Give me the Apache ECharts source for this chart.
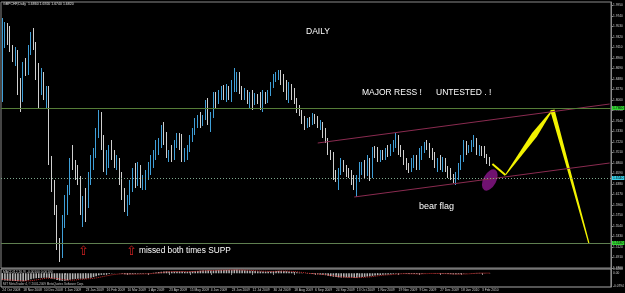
<!DOCTYPE html>
<html><head><meta charset="utf-8">
<script src="https://cdn.jsdelivr.net/npm/echarts/dist/echarts.min.js"></script>
<style>html,body{margin:0;padding:0;background:#000;overflow:hidden}#c{width:625px;height:293px}</style>
</head><body><div id="c"></div>
<script>
const tickLabels = ['24 Oct 2008','18 Nov 2008','10 Dec 2008','1 Jan 2009','23 Jan 2009','16 Feb 2009','10 Mar 2009','1 Apr 2009','23 Apr 2009','15 May 2009','4 Jun 2009','23 Jun 2009','12 Jul 2009','30 Jul 2009','18 Aug 2009','6 Sep 2009','24 Sep 2009','13 Oct 2009','1 Nov 2009','19 Nov 2009','9 Dec 2009','27 Dec 2009','18 Jan 2010','3 Feb 2010'];

const opens = [
1.836,1.926,1.950,1.926,1.910,1.890,1.902,1.826,1.816,1.878,
1.862,1.910,1.934,1.916,1.862,1.826,1.856,1.816,1.826,1.686,
1.636,1.586,1.516,1.506,1.566,1.606,1.626,1.682,1.676,1.662,
1.642,1.596,1.606,1.596,1.650,1.686,1.702,1.742,1.770,1.722,
1.676,1.690,1.706,1.694,1.682,1.686,1.646,1.616,1.596,1.606,
1.636,1.662,1.646,1.670,1.642,1.650,1.656,1.670,1.686,1.696,
1.716,1.726,1.746,1.726,1.696,1.700,1.690,1.720,1.730,1.716,
1.690,1.702,1.710,1.730,1.746,1.762,1.766,1.758,1.772,1.798,
1.766,1.776,1.814,1.806,1.818,1.826,1.814,1.830,1.810,1.838,
1.846,1.854,1.826,1.818,1.822,1.806,1.818,1.802,1.814,1.810,
1.798,1.814,1.806,1.822,1.836,1.852,1.856,1.862,1.842,1.830,
1.822,1.830,1.814,1.806,1.786,1.782,1.766,1.754,1.766,1.762,
1.774,1.764,1.754,1.758,1.736,1.726,1.702,1.694,1.656,1.650,
1.662,1.682,1.670,1.662,1.658,1.646,1.634,1.646,1.670,1.676,
1.662,1.686,1.656,1.706,1.702,1.690,1.698,1.692,1.706,1.700,
1.712,1.720,1.730,1.706,1.702,1.682,1.674,1.668,1.682,1.690,
1.678,1.702,1.706,1.716,1.710,1.702,1.694,1.676,1.686,1.672,
1.686,1.670,1.662,1.654,1.646,1.656,1.672,1.686,1.716,1.706,
1.710,1.720,1.726,1.706,1.710,1.706,1.694,1.686];
const highs = [
1.970,1.962,1.960,1.954,1.916,1.912,1.906,1.850,1.882,1.890,
1.916,1.942,1.950,1.922,1.880,1.870,1.862,1.834,1.834,1.694,
1.646,1.596,1.530,1.576,1.616,1.636,1.690,1.716,1.686,1.676,
1.654,1.614,1.630,1.662,1.696,1.710,1.750,1.786,1.782,1.736,
1.706,1.716,1.726,1.706,1.696,1.690,1.662,1.630,1.616,1.646,
1.670,1.680,1.682,1.676,1.656,1.666,1.682,1.696,1.706,1.726,
1.730,1.756,1.762,1.742,1.706,1.716,1.726,1.740,1.740,1.738,
1.710,1.716,1.736,1.750,1.770,1.776,1.782,1.776,1.806,1.810,
1.782,1.822,1.822,1.826,1.834,1.836,1.838,1.834,1.846,1.870,
1.862,1.862,1.834,1.830,1.826,1.822,1.826,1.820,1.818,1.822,
1.826,1.822,1.826,1.842,1.858,1.862,1.866,1.866,1.858,1.846,
1.842,1.838,1.830,1.810,1.796,1.786,1.774,1.770,1.772,1.780,
1.778,1.774,1.766,1.762,1.750,1.730,1.706,1.702,1.666,1.670,
1.690,1.686,1.676,1.670,1.666,1.656,1.656,1.682,1.682,1.686,
1.696,1.690,1.712,1.714,1.712,1.706,1.706,1.710,1.716,1.718,
1.726,1.740,1.736,1.716,1.706,1.690,1.680,1.690,1.696,1.696,
1.710,1.714,1.722,1.726,1.720,1.710,1.702,1.690,1.696,1.692,
1.690,1.674,1.670,1.658,1.662,1.680,1.696,1.726,1.724,1.716,
1.726,1.736,1.730,1.716,1.714,1.714,1.698,1.692];
const lows = [
1.802,1.910,1.916,1.902,1.882,1.874,1.816,1.782,1.802,1.854,
1.856,1.896,1.906,1.846,1.790,1.816,1.806,1.790,1.676,1.622,
1.576,1.506,1.482,1.490,1.550,1.576,1.616,1.666,1.646,1.636,
1.576,1.552,1.562,1.590,1.636,1.666,1.690,1.730,1.706,1.662,
1.656,1.670,1.686,1.670,1.666,1.636,1.606,1.582,1.574,1.596,
1.622,1.630,1.634,1.630,1.626,1.626,1.646,1.656,1.670,1.686,
1.696,1.710,1.716,1.690,1.682,1.682,1.686,1.710,1.706,1.682,
1.682,1.686,1.702,1.722,1.736,1.750,1.750,1.754,1.766,1.756,
1.742,1.770,1.790,1.798,1.806,1.806,1.802,1.806,1.802,1.822,
1.822,1.818,1.806,1.806,1.798,1.790,1.786,1.796,1.798,1.786,
1.782,1.798,1.800,1.814,1.830,1.842,1.846,1.836,1.822,1.806,
1.800,1.806,1.798,1.780,1.774,1.758,1.746,1.750,1.752,1.756,
1.758,1.750,1.746,1.730,1.720,1.696,1.686,1.646,1.642,1.626,
1.656,1.662,1.652,1.650,1.636,1.626,1.612,1.642,1.656,1.650,
1.654,1.644,1.650,1.690,1.682,1.682,1.686,1.686,1.692,1.694,
1.702,1.710,1.696,1.692,1.676,1.666,1.660,1.662,1.670,1.666,
1.666,1.686,1.700,1.706,1.690,1.686,1.670,1.662,1.666,1.662,
1.662,1.650,1.646,1.640,1.636,1.646,1.666,1.682,1.696,1.700,
1.702,1.712,1.696,1.694,1.694,1.690,1.678,1.674];
const closes = [
1.926,1.950,1.926,1.910,1.890,1.902,1.826,1.816,1.878,1.862,
1.910,1.934,1.916,1.862,1.826,1.856,1.816,1.826,1.686,1.636,
1.586,1.516,1.506,1.566,1.606,1.626,1.682,1.676,1.662,1.642,
1.596,1.606,1.596,1.650,1.686,1.702,1.742,1.770,1.722,1.676,
1.690,1.706,1.694,1.682,1.686,1.646,1.616,1.596,1.606,1.636,
1.662,1.646,1.670,1.642,1.650,1.656,1.670,1.686,1.696,1.716,
1.726,1.746,1.726,1.696,1.700,1.690,1.720,1.730,1.716,1.690,
1.702,1.710,1.730,1.746,1.762,1.766,1.758,1.772,1.798,1.766,
1.776,1.814,1.806,1.818,1.826,1.814,1.830,1.810,1.838,1.846,
1.854,1.826,1.818,1.822,1.806,1.818,1.802,1.814,1.810,1.798,
1.814,1.806,1.822,1.836,1.852,1.856,1.862,1.842,1.830,1.822,
1.830,1.814,1.806,1.786,1.782,1.766,1.754,1.766,1.762,1.774,
1.764,1.754,1.758,1.736,1.726,1.702,1.694,1.656,1.650,1.662,
1.682,1.670,1.662,1.658,1.646,1.634,1.646,1.670,1.676,1.662,
1.686,1.656,1.706,1.702,1.690,1.698,1.692,1.706,1.700,1.712,
1.720,1.730,1.706,1.702,1.682,1.674,1.668,1.682,1.690,1.678,
1.702,1.706,1.716,1.710,1.702,1.694,1.676,1.686,1.672,1.686,
1.670,1.662,1.654,1.646,1.656,1.672,1.686,1.716,1.706,1.710,
1.720,1.726,1.706,1.710,1.706,1.694,1.686,1.682];

const macdMain = [
-0.040,-0.042,-0.043,-0.044,-0.045,-0.045,-0.046,-0.047,-0.046,-0.044,
-0.040,-0.035,-0.031,-0.029,-0.028,-0.027,-0.026,-0.026,-0.027,-0.030,
-0.034,-0.039,-0.043,-0.044,-0.043,-0.041,-0.038,-0.035,-0.033,-0.032,
-0.032,-0.032,-0.031,-0.029,-0.026,-0.022,-0.017,-0.012,-0.009,-0.008,
-0.006,-0.004,-0.002,-0.001,0.000,-0.001,-0.003,-0.005,-0.006,-0.006,
-0.005,-0.004,-0.003,-0.003,-0.003,-0.002,-0.001,0.001,0.003,0.005,
0.007,0.009,0.011,0.011,0.010,0.010,0.010,0.011,0.011,0.010,
0.009,0.009,0.010,0.011,0.013,0.014,0.015,0.016,0.017,0.017,
0.016,0.017,0.018,0.018,0.019,0.019,0.019,0.019,0.019,0.020,
0.020,0.019,0.018,0.017,0.016,0.015,0.014,0.013,0.012,0.011,
0.011,0.010,0.010,0.011,0.012,0.013,0.014,0.014,0.013,0.012,
0.010,0.009,0.008,0.006,0.004,0.002,0.000,-0.002,-0.003,-0.004,
-0.005,-0.006,-0.007,-0.009,-0.011,-0.014,-0.017,-0.020,-0.022,-0.024,
-0.024,-0.024,-0.024,-0.024,-0.025,-0.026,-0.026,-0.024,-0.022,-0.021,
-0.019,-0.018,-0.015,-0.013,-0.011,-0.010,-0.009,-0.008,-0.007,-0.006,
-0.004,-0.002,-0.001,-0.001,-0.002,-0.003,-0.004,-0.004,-0.004,-0.004,
-0.003,-0.002,-0.001,0.000,0.000,0.000,-0.001,-0.001,-0.002,-0.002,
-0.003,-0.004,-0.005,-0.006,-0.006,-0.005,-0.004,-0.002,-0.001,0.000,
0.001,0.002,0.002,0.002,0.002,0.001,0.000,-0.001];
const macdSignal = [
-0.035,-0.037,-0.038,-0.039,-0.040,-0.041,-0.042,-0.043,-0.044,-0.044,
-0.044,-0.043,-0.041,-0.039,-0.036,-0.033,-0.031,-0.029,-0.028,-0.028,
-0.029,-0.031,-0.033,-0.036,-0.038,-0.039,-0.040,-0.040,-0.039,-0.037,
-0.035,-0.034,-0.033,-0.032,-0.031,-0.029,-0.027,-0.024,-0.021,-0.018,
-0.015,-0.012,-0.009,-0.007,-0.005,-0.004,-0.003,-0.003,-0.004,-0.004,
-0.005,-0.005,-0.005,-0.004,-0.004,-0.003,-0.003,-0.002,-0.001,0.001,
0.002,0.004,0.006,0.008,0.009,0.010,0.010,0.010,0.010,0.010,
0.010,0.010,0.010,0.010,0.011,0.012,0.013,0.014,0.015,0.016,
0.016,0.016,0.017,0.017,0.018,0.018,0.018,0.019,0.019,0.019,
0.019,0.019,0.019,0.018,0.018,0.017,0.016,0.015,0.014,0.013,
0.012,0.012,0.011,0.011,0.011,0.012,0.012,0.013,0.013,0.013,
0.012,0.011,0.010,0.009,0.007,0.005,0.003,0.001,-0.001,-0.002,
-0.003,-0.004,-0.005,-0.006,-0.008,-0.010,-0.012,-0.014,-0.017,-0.019,
-0.021,-0.022,-0.023,-0.024,-0.024,-0.025,-0.025,-0.025,-0.024,-0.023,
-0.022,-0.021,-0.019,-0.017,-0.015,-0.013,-0.011,-0.010,-0.009,-0.008,
-0.007,-0.005,-0.004,-0.003,-0.002,-0.002,-0.003,-0.003,-0.003,-0.004,
-0.004,-0.003,-0.002,-0.002,-0.001,-0.001,-0.001,-0.001,-0.001,-0.002,
-0.002,-0.003,-0.003,-0.004,-0.005,-0.005,-0.005,-0.004,-0.004,-0.003,
-0.002,-0.001,0.000,0.001,0.001,0.001,0.001,0.001];

const resistanceLevel = 1.786;
const supportLevel = 1.518;
const dottedLevel = 1.654;
const upperChannel = [[121, 1.720], [233, 1.798]];
const lowerChannel = [[135, 1.612], [233, 1.680]];
const forecastPath = [[188, 1.678], [193, 1.656], [211, 1.786], [225, 1.520]];
const flagZone = [[187, 1.646]];
const TOTAL_SLOTS = 234;
const LABEL_STEP = 8;

// ---- build library structures ----
const categories = [];
for (let i = 0; i < TOTAL_SLOTS; i++) categories.push(String(i));
const isLabelIdx = (i) => i % LABEL_STEP === 0 && (i / LABEL_STEP) < tickLabels.length;
const candleData = opens.map((o, i) => [o, closes[i], lows[i], highs[i]]);
const segs = [];
for (let i = 0; i < forecastPath.length - 1; i++) segs.push([forecastPath[i][0], forecastPath[i][1], forecastPath[i+1][0], forecastPath[i+1][1]]);
const wedgeStyle = [[2, 2, 2, 0.5], [1, 6, 1, 0.62], [4.5, 3, 1.2, 0.4]];
const last = opens.length - 1;
const FONT = 'Liberation Sans, Arial, sans-serif';

const chart = echarts.init(document.getElementById('c'), null, {renderer: 'canvas'});
const lvlLabel = (v, bg) => ({show: true, position: 'end', formatter: v.toFixed(4), color: '#000', backgroundColor: bg, fontSize: 3.4, fontFamily: FONT, padding: [1, 1, 0, 1], distance: 1});

chart.setOption({
  backgroundColor: '#000',
  animation: false,
  grid: [
    {left: 1, right: 14, top: 2, height: 266, show: true, borderColor: '#8a8a8a', borderWidth: 1, outerBoundsMode: 'none'},
    {left: 1, right: 14, top: 269, height: 18, show: true, borderColor: '#a8a8a8', borderWidth: 1, outerBoundsMode: 'none'}
  ],
  xAxis: [
    {type: 'category', gridIndex: 0, data: categories, boundaryGap: true,
     axisLine: {show: false}, axisTick: {show: false}, axisLabel: {show: false}, splitLine: {show: false}},
    {type: 'category', gridIndex: 1, data: categories, boundaryGap: true,
     axisLine: {show: false},
     axisTick: {show: true, alignWithLabel: true, interval: (i) => isLabelIdx(i), length: 1.5, lineStyle: {color: '#b0b0b0', width: 1}},
     axisLabel: {show: true, interval: (i) => isLabelIdx(i), formatter: (v, i) => tickLabels[i / LABEL_STEP] || '',
       fontSize: 3.3, fontFamily: FONT, color: '#d0d0d0', align: 'left', margin: 1.5},
     splitLine: {show: false}}
  ],
  yAxis: [
    {type: 'value', gridIndex: 0, position: 'right', min: 1.47, max: 2.002, interval: 0.021, scale: true,
     axisLine: {show: true, lineStyle: {color: '#8a8a8a'}},
     axisTick: {show: true, length: 2, lineStyle: {color: '#8a8a8a'}},
     axisLabel: {fontSize: 3.2, fontFamily: FONT, color: '#d0d0d0', margin: 2, showMaxLabel: false, formatter: (v) => v.toFixed(4)},
     splitLine: {show: false}},
    {type: 'value', gridIndex: 1, position: 'right', min: -0.08, max: 0.025, interval: 0.005,
     axisLine: {show: true, lineStyle: {color: '#8a8a8a'}},
     axisTick: {show: false},
     axisLabel: {fontSize: 3.2, fontFamily: FONT, color: '#d0d0d0', margin: 2, showMinLabel: false, showMaxLabel: true,
       formatter: (v) => Math.abs(v - 0.025) < 1e-9 ? '0.0260' : (Math.abs(v) < 1e-9 ? '0.00' : (Math.abs(v + 0.075) < 1e-9 ? '-0.0794' : ''))},
     splitLine: {show: false}}
  ],
  series: [
    {type: 'candlestick', xAxisIndex: 0, yAxisIndex: 0, data: candleData, barWidth: 1.3,
     itemStyle: {color: '#3f9fd8', color0: '#e6e6e6', borderColor: '#3f9fd8', borderColor0: '#cfcfcf', borderWidth: 1},
     markLine: {silent: true, symbol: ['none', 'none'], animation: false,
       data: [
         {yAxis: resistanceLevel, lineStyle: {color: '#557d38', width: 1, type: 'solid'}, label: lvlLabel(resistanceLevel, '#33d633')},
         {yAxis: supportLevel, lineStyle: {color: '#5f7f50', width: 1, type: 'solid'}, label: lvlLabel(supportLevel, '#33d633')},
         {yAxis: dottedLevel, lineStyle: {color: '#7fa88f', width: 1, type: [1, 2]}, label: lvlLabel(dottedLevel, '#38d0e8')},
         {yAxis: closes[last], lineStyle: {opacity: 0}, label: lvlLabel(closes[last], '#e8e8e8')}
       ]}},
    {type: 'line', xAxisIndex: 0, yAxisIndex: 0, data: upperChannel, showSymbol: false, silent: true,
     lineStyle: {color: '#8a2b50', width: 1}},
    {type: 'line', xAxisIndex: 0, yAxisIndex: 0, data: lowerChannel, showSymbol: false, silent: true,
     lineStyle: {color: '#8a2b50', width: 1}},
    {type: 'scatter', xAxisIndex: 0, yAxisIndex: 0, data: flagZone, symbol: 'circle', symbolSize: [13, 23], symbolRotate: -28,
     itemStyle: {color: '#8c168c'}, silent: true},
    {type: 'custom', xAxisIndex: 0, yAxisIndex: 0, data: segs, silent: true,
     encode: {x: [0, 2], y: [1, 3]},
     renderItem: function (params, api) {
       const a = api.coord([api.value(0), api.value(1)]);
       const b = api.coord([api.value(2), api.value(3)]);
       const w = wedgeStyle[params.dataIndex];
       const dx = b[0] - a[0], dy = b[1] - a[1], len = Math.hypot(dx, dy);
       const nx = -dy / len, ny = dx / len;
       const m = [a[0] + dx * w[3], a[1] + dy * w[3]];
       const pts = [
         [a[0] + nx * w[0] / 2, a[1] + ny * w[0] / 2], [m[0] + nx * w[1] / 2, m[1] + ny * w[1] / 2], [b[0] + nx * w[2] / 2, b[1] + ny * w[2] / 2],
         [b[0] - nx * w[2] / 2, b[1] - ny * w[2] / 2], [m[0] - nx * w[1] / 2, m[1] - ny * w[1] / 2], [a[0] - nx * w[0] / 2, a[1] - ny * w[0] / 2]
       ];
       return {type: 'polygon', shape: {points: pts}, style: {fill: '#f2f200'}};
     }},
    {type: 'bar', xAxisIndex: 1, yAxisIndex: 1, data: macdMain, barWidth: 1.6, silent: true,
     itemStyle: {color: '#b4b4b4'}},
    {type: 'line', xAxisIndex: 1, yAxisIndex: 1, data: macdSignal, showSymbol: false, silent: true,
     lineStyle: {color: '#d03030', width: 1, type: 'dotted'}}
  ],
  graphic: [
    {type: 'text', left: 3, top: 2, silent: true, style: {text: 'GBPCHF,Daily  ' + [opens[last], highs[last], lows[last], closes[last]].map(v => v.toFixed(4)).join(' '), fill: '#e0e0e0', fontSize: 3.5, fontFamily: FONT}},
    {type: 'text', left: 306, top: 27, silent: true, style: {text: 'DAILY', fill: '#ffffff', fontSize: 8.5, fontFamily: FONT}},
    {type: 'text', left: 362, top: 88, silent: true, style: {text: 'MAJOR RESS !', fill: '#ffffff', fontSize: 8.5, fontFamily: FONT}},
    {type: 'text', left: 436, top: 88, silent: true, style: {text: 'UNTESTED . !', fill: '#ffffff', fontSize: 8.5, fontFamily: FONT}},
    {type: 'text', left: 419, top: 202, silent: true, style: {text: 'bear flag', fill: '#ffffff', fontSize: 9, fontFamily: FONT}},
    {type: 'text', left: 139, top: 247, silent: true, style: {text: 'missed both times SUPP', fill: '#ffffff', fontSize: 8.3, fontFamily: FONT}},
    {type: 'text', left: 78, top: 245, silent: true, style: {text: '\u21e7', fill: '#cc2020', fontSize: 13, fontFamily: 'DejaVu Sans'}},
    {type: 'text', left: 126, top: 245, silent: true, style: {text: '\u21e7', fill: '#cc2020', fontSize: 13, fontFamily: 'DejaVu Sans'}},
    {type: 'text', left: 3, top: 270.5, silent: true, style: {text: 'MACD(12,26,9) ' + macdMain[last].toFixed(5) + ' ' + macdSignal[last].toFixed(5), fill: '#d0d0d0', fontSize: 3.3, fontFamily: FONT}},
    {type: 'text', left: 3, top: 282.5, silent: true, style: {text: 'MIT MetaTrader 4, \u00a9 2001-2009 MetaQuotes Software Corp.', fill: '#c0c0c0', fontSize: 3, fontFamily: FONT}}
  ]
});
</script>
</body></html>
